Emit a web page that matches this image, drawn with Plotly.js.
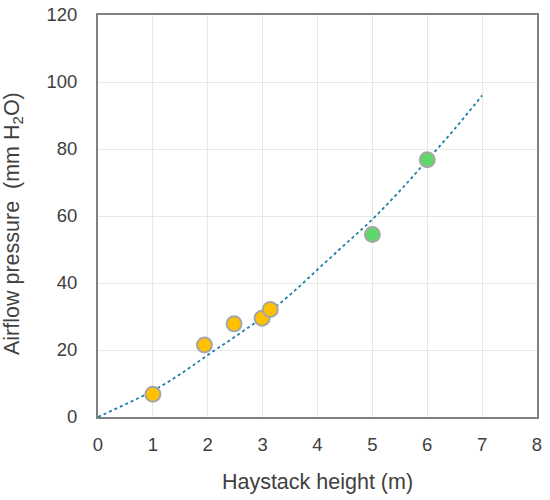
<!DOCTYPE html>
<html>
<head>
<meta charset="utf-8">
<script src="https://cdn.plot.ly/plotly-3.0.1.min.js"></script>
<style>html,body{margin:0;padding:0;background:#fff;}#chart{width:550px;height:500px;}</style>
</head>
<body>
<div id="chart"></div>
<script>
// Measured points
const orangeX = [1.0, 1.94, 2.48, 2.99, 3.14];
const orangeY = [6.8, 21.5, 27.8, 29.5, 32.1];
const greenX = [5.0, 6.0];
const greenY = [54.5, 76.8];
// Trend line
const trendX = [0, 0.5, 1, 1.5, 2, 2.5, 3, 3.5, 4, 4.5, 5, 5.5, 6, 6.5, 7];
const trendY = [0, 3.8, 7.8, 12.8, 18.5, 24, 29.8, 36.5, 44, 51.5, 59, 67.5, 76.7, 86, 96];
const xTicks = [0, 1, 2, 3, 4, 5, 6, 7, 8];
const yTicks = [0, 20, 40, 60, 80, 100, 120];
const xTitle = 'Haystack height (m)';
const yTitle = 'Airflow pressure  (mm H<sub>2</sub>O)';

const markerLine = {color: '#A6A6A6', width: 2};
const data = [
  {x: trendX, y: trendY, mode: 'lines', type: 'scatter', line: {color: '#1B7FA6', width: 1.8, dash: 'dot', shape: 'spline'}, hoverinfo: 'skip'},
  {x: orangeX, y: orangeY, mode: 'markers', type: 'scatter', marker: {size: 15, color: '#FFC000', line: markerLine}},
  {x: greenX, y: greenY, mode: 'markers', type: 'scatter', marker: {size: 15, color: '#5DD96A', line: markerLine}}
];
const tickFnt = {family: 'Liberation Sans, Arial, sans-serif', size: 18.5, color: '#404040'};
const titleFnt = {family: 'Liberation Sans, Arial, sans-serif', size: 21.5, color: '#404040'};
const layout = {
  width: 550, height: 500,
  margin: {l: 98, r: 13, t: 15, b: 83},
  showlegend: false,
  paper_bgcolor: '#fff', plot_bgcolor: '#fff',
  font: tickFnt,
  xaxis: {
    range: [0, 8], tickvals: xTicks, ticktext: xTicks.map(String),
    showgrid: true, gridcolor: '#E8E8E8', gridwidth: 1,
    showline: true, linecolor: '#808080', linewidth: 2, mirror: true,
    zeroline: false, ticks: '', ticklabelstandoff: 10,
    tickfont: tickFnt,
    title: {text: xTitle, font: titleFnt, standoff: 20},
    automargin: false
  },
  yaxis: {
    range: [0, 120], tickvals: yTicks, ticktext: yTicks.map(String),
    showgrid: true, gridcolor: '#E8E8E8', gridwidth: 1,
    showline: true, linecolor: '#808080', linewidth: 2, mirror: true,
    zeroline: false, ticks: '', ticklabelstandoff: 15,
    tickfont: tickFnt,
    automargin: false
  },
  annotations: [{
    text: yTitle, font: titleFnt, textangle: -90, showarrow: false,
    xref: 'paper', yref: 'paper', x: 0, y: 0.48,
    xanchor: 'center', yanchor: 'middle', xshift: -85
  }]
};
Plotly.newPlot('chart', data, layout, {displayModeBar: false, staticPlot: true});
</script>
</body>
</html>
